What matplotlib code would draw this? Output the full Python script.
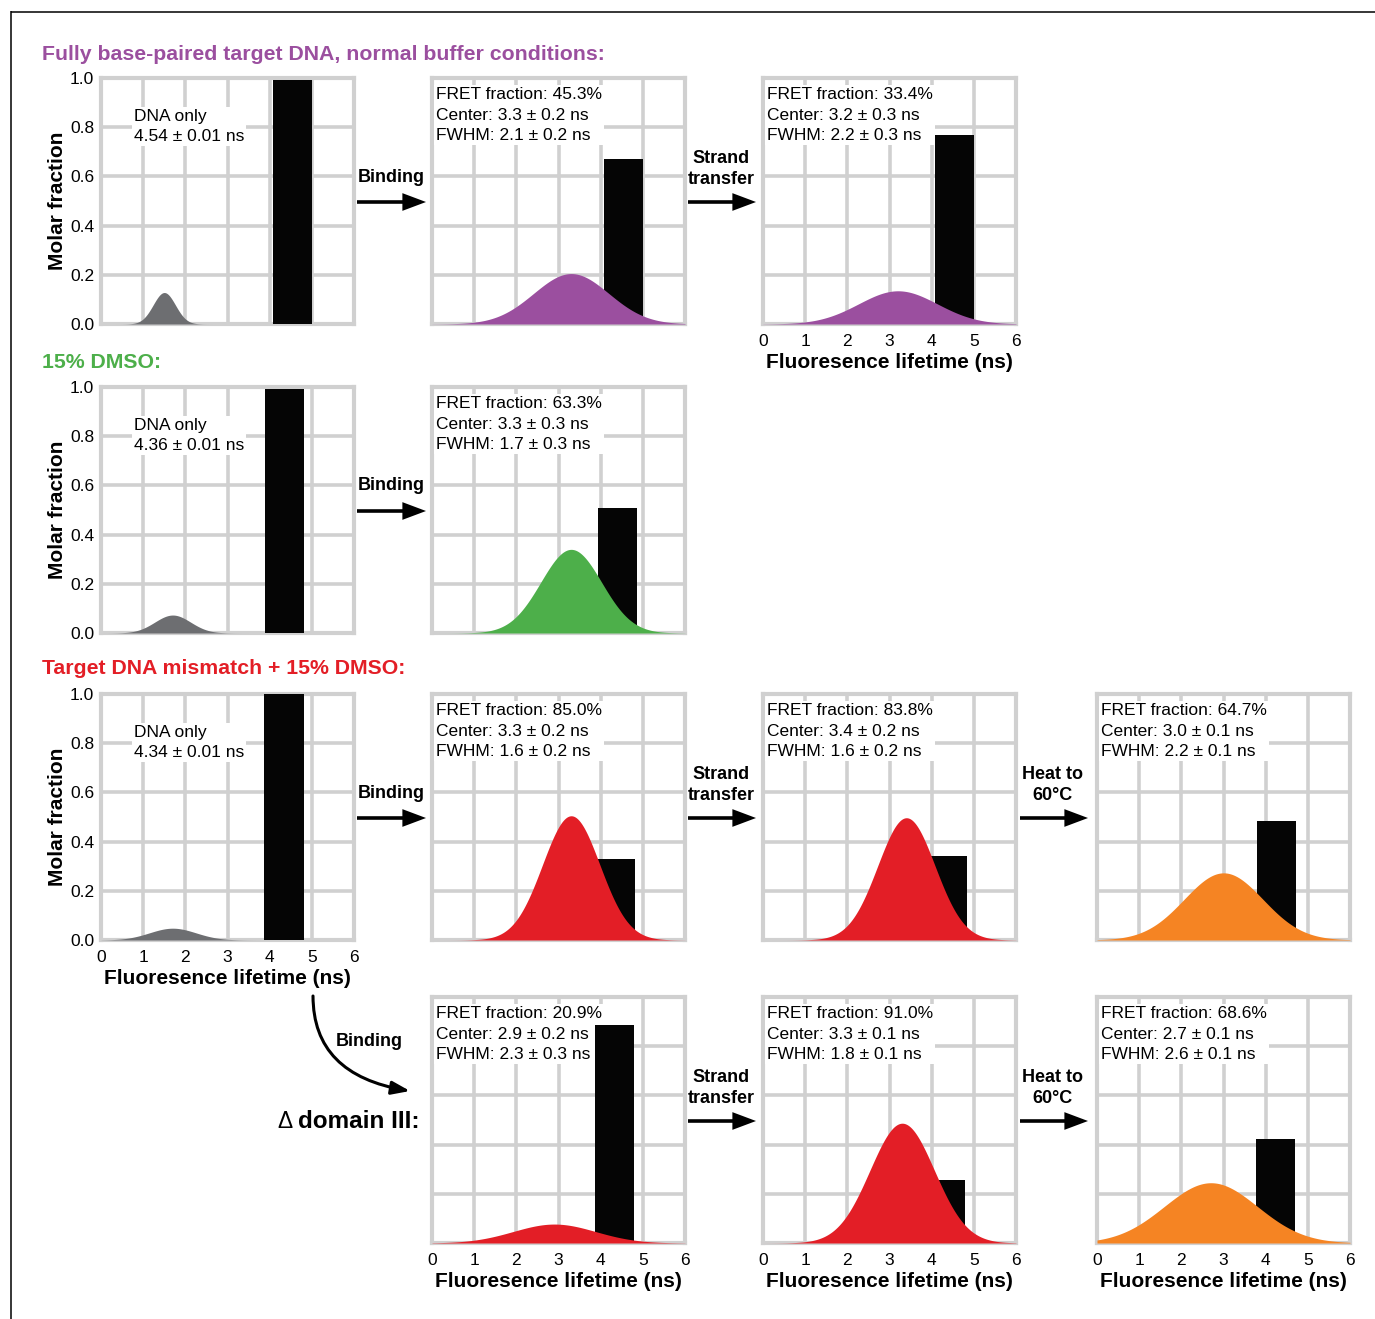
import numpy as np
import matplotlib
matplotlib.use("Agg")
import matplotlib.pyplot as plt
from matplotlib.patches import FancyArrowPatch
from matplotlib.path import Path

plt.rcParams['font.family'] = ['Liberation Sans', 'DejaVu Sans']

# ---------------- data ----------------
x_ticks = [0, 1, 2, 3, 4, 5, 6]
y_ticks = [0.0, 0.2, 0.4, 0.6, 0.8, 1.0]

# DNA-only panels (rows 1-3, first column)
dna_lifetime = [4.54, 4.36, 4.34]
dna_lifetime_err = [0.01, 0.01, 0.01]
dna_gauss_center = [1.5, 1.7, 1.7]
dna_gauss_fwhm = [0.62, 1.0, 1.3]
dna_gauss_peak = [0.128, 0.073, 0.048]
dna_bar_height = [0.99, 0.99, 1.0]

# FRET panels
fret_names = ['r1_binding', 'r1_strand', 'r2_binding', 'r3_binding', 'r3_strand',
              'r3_heat', 'r4_binding', 'r4_strand', 'r4_heat']
fret_fraction = [45.3, 33.4, 63.3, 85.0, 83.8, 64.7, 20.9, 91.0, 68.6]
fret_center = [3.3, 3.2, 3.3, 3.3, 3.4, 3.0, 2.9, 3.3, 2.7]
fret_center_err = [0.2, 0.3, 0.3, 0.2, 0.2, 0.1, 0.2, 0.1, 0.1]
fret_fwhm = [2.1, 2.2, 1.7, 1.6, 1.6, 2.2, 2.3, 1.8, 2.6]
fret_fwhm_err = [0.2, 0.3, 0.3, 0.2, 0.2, 0.1, 0.3, 0.1, 0.1]
fret_peak = [0.205, 0.135, 0.34, 0.505, 0.497, 0.273, 0.077, 0.487, 0.245]
fret_bar_center = [4.54, 4.54, 4.40, 4.34, 4.37, 4.25, 4.32, 4.32, 4.24]
fret_bar_height = [0.672, 0.77, 0.51, 0.328, 0.342, 0.484, 0.885, 0.257, 0.421]

titles = ["Fully base-paired target DNA, normal buffer conditions:",
          "15% DMSO:",
          "Target DNA mismatch + 15% DMSO:"]

# ---------------- styles / layout ----------------
W, H = 1375, 1319
PURPLE = '#9B4F9F'
GREEN = '#4DAF4A'
RED = '#E31E26'
ORANGE = '#F58423'
GRAY = '#6D6E71'
BLACK = '#050505'
GRIDC = '#D0D0D0'
title_colors = [PURPLE, GREEN, RED]
fret_colors = [PURPLE, PURPLE, GREEN, RED, RED, ORANGE, RED, RED, ORANGE]

col_x = [101, 432, 763, 1097]
row_top = [78, 387, 694, 997]
PW, PH = 253, 246
BAR_W = 0.93

fret_pos = [(0, 1), (0, 2), (1, 1), (2, 1), (2, 2), (2, 3), (3, 1), (3, 2), (3, 3)]
fret_xlabels = [False, True, False, False, False, False, True, True, True]

fig = plt.figure(figsize=(W / 100, H / 100), dpi=100)

# overlay for titles / arrows / border
ov = fig.add_axes([0, 0, 1, 1])
ov.set_xlim(0, W)
ov.set_ylim(H, 0)
ov.axis('off')

ov.plot([11, W], [11.5, 11.5], color='black', lw=1.1, solid_capstyle='butt')
ov.plot([11.5, 11.5], [11, H], color='black', lw=1.1, solid_capstyle='butt')

title_y = [55, 362, 669]
for t, c, y in zip(titles, title_colors, title_y):
    ov.text(42, y, t, color=c, fontsize=15.3, fontweight='bold', ha='left', va='center')

ov.text(298, 1121, "domain III:", fontsize=17.5, fontweight='bold', ha='left', va='center')
ov.text(277, 1122, "\u0394", fontsize=16.5, ha='left', va='center')

def harrow(x0, x1, y):
    a = FancyArrowPatch((x0, y), (x1, y), arrowstyle='-|>,head_length=1.2,head_width=0.45',
                        mutation_scale=10, lw=2.6, color='black', shrinkA=0, shrinkB=0,
                        joinstyle='miter', capstyle='butt')
    ov.add_patch(a)

arrow_specs = [
    (357, 426, 202, "Binding", 391, 177),
    (688, 756, 202, "Strand\ntransfer", 721, 169),
    (357, 426, 511, "Binding", 391, 485),
    (357, 426, 818, "Binding", 391, 793),
    (688, 756, 818, "Strand\ntransfer", 721, 785),
    (1020, 1088, 818, "Heat to\n60\u00b0C", 1053, 785),
    (688, 756, 1121, "Strand\ntransfer", 721, 1088),
    (1020, 1088, 1121, "Heat to\n60\u00b0C", 1053, 1088),
]
for x0, x1, y, lab, lx, ly in arrow_specs:
    harrow(x0, x1, y)
    ov.text(lx, ly, lab, fontsize=13, fontweight='bold', ha='center', va='center',
            linespacing=1.35)

# curved arrow
cpath = Path([(313, 996), (313, 1075), (410, 1091)], [Path.MOVETO, Path.CURVE3, Path.CURVE3])
ca = FancyArrowPatch(path=cpath, arrowstyle='-|>,head_length=1.1,head_width=0.4',
                     mutation_scale=10, lw=2.2, color='black', shrinkA=0, shrinkB=0)
ov.add_patch(ca)
ov.text(369, 1042, "Binding", fontsize=13, fontweight='bold', ha='center', va='center')

xs = np.linspace(0, 6, 600)

def gauss(center, fwhm, peak):
    s = fwhm / (2 * np.sqrt(2 * np.log(2)))
    return peak * np.exp(-0.5 * ((xs - center) / s) ** 2)

def make_ax(r, c, ylabels=False, xlabels=False):
    x = col_x[c]
    ytop = row_top[r]
    ax = fig.add_axes([x / W, 1 - (ytop + PH) / H, PW / W, PH / H])
    ax.set_xlim(0, 6)
    ax.set_ylim(0, 1)
    ax.set_xticks(x_ticks)
    ax.set_yticks(y_ticks)
    ax.set_yticklabels([f"{v:.1f}" for v in y_ticks])
    ax.set_axisbelow(True)
    ax.grid(True, color=GRIDC, lw=2.6)
    for sp in ax.spines.values():
        sp.set_color(GRIDC)
        sp.set_linewidth(3.0)
    ax.tick_params(axis='y', length=0, labelsize=12.5, pad=5, labelleft=ylabels)
    ax.tick_params(axis='x', length=0, labelsize=12.5, pad=7, labelbottom=xlabels)
    if ylabels:
        ax.set_ylabel("Molar fraction", fontsize=15, fontweight='bold', labelpad=2)
    if xlabels:
        ax.set_xlabel("Fluoresence lifetime (ns)", fontsize=15, fontweight='bold', labelpad=3)
    return ax

# DNA-only panels
for i in range(3):
    ax = make_ax(i, 0, ylabels=True, xlabels=(i == 2))
    ax.bar(dna_lifetime[i], dna_bar_height[i], width=BAR_W, color=BLACK, zorder=5)
    ax.fill_between(xs, 0, gauss(dna_gauss_center[i], dna_gauss_fwhm[i], dna_gauss_peak[i]),
                    color=GRAY, lw=0, zorder=6)
    ax.text(0.13, 0.875, f"DNA only\n{dna_lifetime[i]:.2f} \u00b1 {dna_lifetime_err[i]:.2f} ns",
            transform=ax.transAxes, fontsize=12.5, ha='left', va='top', linespacing=1.45,
            zorder=4, bbox=dict(fc='white', ec='none', pad=1.5))

# FRET panels
for k in range(len(fret_names)):
    r, c = fret_pos[k]
    ax = make_ax(r, c, xlabels=fret_xlabels[k])
    ax.bar(fret_bar_center[k], fret_bar_height[k], width=BAR_W, color=BLACK, zorder=5)
    ax.fill_between(xs, 0, gauss(fret_center[k], fret_fwhm[k], fret_peak[k]),
                    color=fret_colors[k], lw=0, zorder=6)
    txt = (f"FRET fraction: {fret_fraction[k]:.1f}%\n"
           f"Center: {fret_center[k]:.1f} \u00b1 {fret_center_err[k]:.1f} ns\n"
           f"FWHM: {fret_fwhm[k]:.1f} \u00b1 {fret_fwhm_err[k]:.1f} ns")
    ax.text(0.016, 0.962, txt, transform=ax.transAxes, fontsize=12.5, ha='left', va='top',
            linespacing=1.45, zorder=4, bbox=dict(fc='white', ec='none', pad=1.5))

fig.savefig("out.png", dpi=100)
